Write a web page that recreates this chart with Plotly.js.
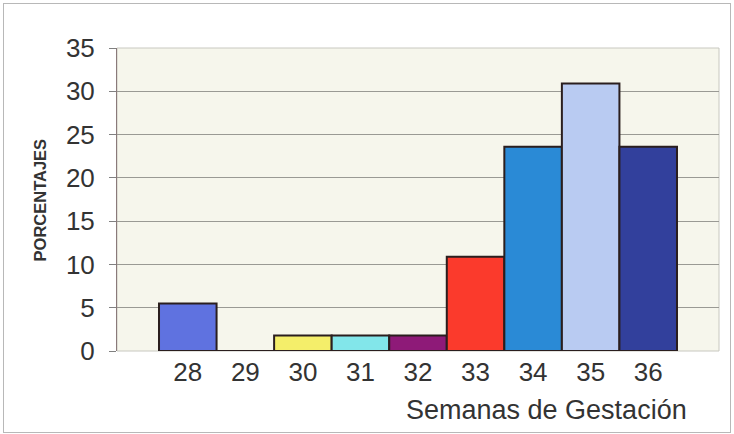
<!DOCTYPE html>
<html>
<head>
<meta charset="utf-8">
<script src="https://cdn.plot.ly/plotly-3.0.1.min.js"></script>
<style>
  html, body { margin: 0; padding: 0; background: #ffffff; }
  #wrap { position: relative; width: 734px; height: 434px; }
  #chart { width: 734px; height: 434px; }
  #frame { position: absolute; left: 3px; top: 3px; width: 726px; height: 428px; border: 1px solid #b8b8b8; pointer-events: none; }
</style>
</head>
<body>
<div id="wrap">
  <div id="chart"></div>
  <div id="frame"></div>
</div>
<script>
const weeks = [28, 29, 30, 31, 32, 33, 34, 35, 36];
const tickLabels = ["28", "29", "30", "31", "32", "33", "34", "35", "36"];
const percentages = [5.5, 0, 1.8, 1.8, 1.8, 10.9, 23.6, 30.9, 23.6];
const barColors = ["#5f72e0", "#5f72e0", "#f4ee6a", "#82e6ea", "#8e1a78", "#fb3a2c", "#2a8ad6", "#b9cbf2", "#32409c"];

const trace = {
  type: "bar",
  x: weeks,
  y: percentages,
  width: 1,
  marker: { color: barColors, line: { color: "#2a1e1e", width: 2 } },
  hoverinfo: "x+y"
};

const layout = {
  width: 734,
  height: 434,
  margin: { l: 117, r: 15, t: 48, b: 83 },
  paper_bgcolor: "rgba(0,0,0,0)",
  plot_bgcolor: "#f6f6ec",
  showlegend: false,
  bargap: 0,
  font: { family: "Liberation Sans, Arial, sans-serif", color: "#333333" },
  xaxis: {
    range: [26.77, 37.23],
    tickmode: "array",
    tickvals: weeks,
    ticktext: tickLabels,
    ticks: "",
    showgrid: false,
    zeroline: false,
    showline: false,
    tickfont: { size: 26, color: "#333333" },
    ticklabelstandoff: 3
  },
  yaxis: {
    range: [0, 35],
    tick0: 0,
    dtick: 5,
    ticks: "outside",
    ticklen: 7,
    tickcolor: "#808080",
    showgrid: true,
    gridcolor: "#9a9a94",
    gridwidth: 1,
    zeroline: false,
    showline: true,
    linecolor: "#8a7a7a",
    linewidth: 1,
    tickfont: { size: 26, color: "#333333" },
    ticklabelstandoff: 9
  },
  shapes: [
    { type: "rect", xref: "paper", yref: "paper", x0: 0, x1: 1, y0: 0, y1: 1,
      line: { color: "#c8c8c0", width: 1 }, fillcolor: "rgba(0,0,0,0)", layer: "below" }
  ],
  annotations: [
    { text: "Semanas de Gestación", xref: "paper", yref: "paper",
      x: 0.713, y: -0.195, xanchor: "center", yanchor: "middle", showarrow: false,
      font: { size: 27, color: "#333333" } },
    { text: "<b>PORCENTAJES</b>", xref: "paper", yref: "paper",
      x: -0.128, y: 0.5, xanchor: "center", yanchor: "middle", showarrow: false,
      textangle: -90, font: { size: 16.5, color: "#333333" } }
  ]
};

Plotly.newPlot("chart", [trace], layout, { displayModeBar: false, staticPlot: true });
</script>
</body>
</html>
